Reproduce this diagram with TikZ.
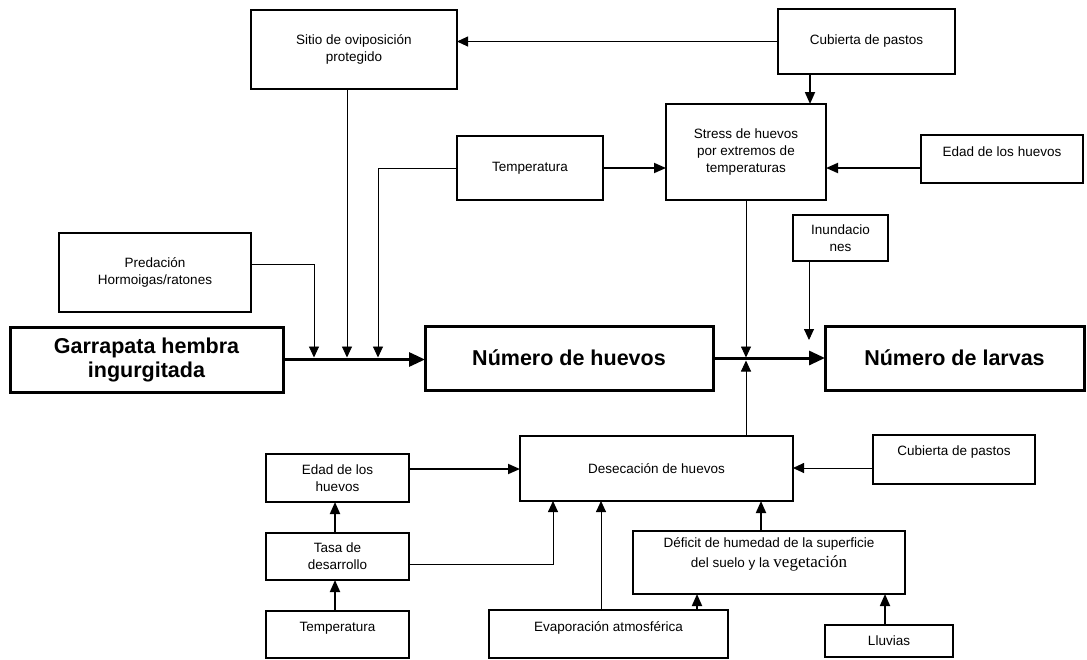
\documentclass[tikz,border=0pt]{standalone}
\usepackage{fontspec}
\setmainfont{Liberation Sans}
\newfontfamily\serifvg{Liberation Serif}
\usetikzlibrary{arrows.meta,calc}

\begin{document}
\begin{tikzpicture}[x=1pt,y=-1pt,
  box/.style={draw, line width=1.2pt, inner sep=0pt, outer sep=0pt, align=center,
    font=\fontsize{13.5}{17}\selectfont},
  bigbox/.style={draw, line width=3pt, inner sep=0pt, outer sep=0pt, align=center,
    font=\fontsize{21.5}{24}\selectfont\bfseries},
  inner/.style={inner sep=0pt, align=center, font=\fontsize{13.5}{17}\selectfont},
  conn/.style={line width=0.9pt, -{Triangle[length=11pt,width=10pt]}},
  connb/.style={line width=1.8pt, -{Triangle[length=12pt,width=10pt]}},
  mainarrow/.style={line width=3pt, -{Triangle[length=16pt,width=14pt]}}
]
\useasboundingbox (0,0) rectangle (1087,659);

% upper factors
\node[box, minimum width=206pt, minimum height=79pt] (sitio) at (354,49.5) {Sitio de oviposición\\protegido};
\node[box, minimum width=177pt, minimum height=65pt] (cubT) at (866.5,41.5) {Cubierta de pastos};
\node[box, minimum width=160pt, minimum height=96pt] (stress) at (746,152) {Stress de huevos\\por extremos de\\temperaturas};
\node[box, minimum width=146pt, minimum height=64pt] (tempT) at (530,168) {Temperatura};
\node[box, minimum width=162pt, minimum height=48pt,
  label={[inner, anchor=north, yshift=-12pt]north:Edad de los huevos}] (edadT) at (1002,159) {};
\node[box, minimum width=192pt, minimum height=79pt] (pred) at (155,272.5) {Predación\\Hormoigas/ratones};
\node[box, minimum width=95pt, minimum height=46pt] (inund) at (840.5,238) {Inundacio\\nes};

% main chain
\node[bigbox, minimum width=273pt, minimum height=65pt] (garr) at (146.5,359.5) {Garrapata hembra\\ingurgitada};
\node[bigbox, minimum width=288pt, minimum height=64pt] (huevos) at (569,358) {Número de huevos};
\node[bigbox, minimum width=259pt, minimum height=64pt] (larvas) at (954.5,358) {Número de larvas};

% lower factors
\node[box, minimum width=143pt, minimum height=48pt] (edadB) at (337.5,478) {Edad de los\\huevos};
\node[box, minimum width=143pt, minimum height=47pt] (tasa) at (337.5,556.5) {Tasa de\\desarrollo};
\node[box, minimum width=143pt, minimum height=47pt,
  label={[inner, anchor=north, yshift=-11pt]north:Temperatura}] (tempB) at (337.5,634.5) {};
\node[box, minimum width=273pt, minimum height=65pt] (des) at (656.5,468.5) {Desecación de huevos};
\node[box, minimum width=162pt, minimum height=49pt,
  label={[inner, anchor=north, yshift=-11pt]north:Cubierta de pastos}] (cubB) at (954,459.5) {};
\node[box, minimum width=272pt, minimum height=63pt,
  label={[inner, anchor=north, yshift=-6pt, font=\fontsize{13.5}{20}\selectfont]north:{Déficit de humedad de la superficie\\del suelo y la {\serifvg\fontsize{17}{20}\selectfont vegetación}}}] (def) at (769,562.5) {};
\node[box, minimum width=239pt, minimum height=48pt,
  label={[inner, anchor=north, yshift=-11pt]north:Evaporación atmosférica}] (evap) at (608.5,634) {};
\node[box, minimum width=128pt, minimum height=32pt] (lluv) at (889,641) {Lluvias};

% points where influences meet the main chain
\coordinate (mp) at (314,357.5);
\coordinate (ms) at (347,357.5);
\coordinate (mt) at (378,357.5);
\coordinate (mstress) at (746,357.5);
\coordinate (mdes) at (746,360.5);
\coordinate (iend) at (809,340);

% main chain arrows
\draw[mainarrow] (garr.east) -- (garr.east -| huevos.west);
\draw[mainarrow] (huevos.east) -- (huevos.east -| larvas.west);

% upper connectors
\draw[conn] ([yshift=8.5pt]pred.east) -| (mp);
\draw[conn] ([xshift=-7pt]sitio.south) -- (ms);
\draw[conn] (tempT.west) -| (mt);
\draw[conn] (cubT.west) -- (cubT.west -| sitio.east);
\draw[connb] ([xshift=-56.5pt]cubT.south) -- ([xshift=-56.5pt]cubT.south |- stress.north);
\draw[connb] (tempT.east) -- (tempT.east -| stress.west);
\draw[connb] ([yshift=-9pt]edadT.west) -- ([yshift=-9pt]edadT.west -| stress.east);
\draw[conn] (stress.south) -- (mstress);
\draw[conn] ([xshift=89.5pt]des.north) -- (mdes);
\draw[conn] ([xshift=-31.5pt]inund.south) -- (iend);

% lower connectors
\draw[connb] ([yshift=9pt]edadB.east) -- ([yshift=9pt]edadB.east -| des.west);
\draw[conn] ([yshift=-7.5pt]tasa.east) -| ([xshift=-103.5pt]des.south);
\draw[connb] ([xshift=-2.5pt]tempB.north) -- ([xshift=-2.5pt]tempB.north |- tasa.south);
\draw[connb] ([xshift=-2.5pt]tasa.north) -- ([xshift=-2.5pt]tasa.north |- edadB.south);
\draw[conn] ([xshift=-7.5pt]evap.north) -- ([xshift=-7.5pt]evap.north |- des.south);
\draw[connb] ([xshift=88.5pt]evap.north) -- ([xshift=88.5pt]evap.north |- def.south);
\draw[connb] ([xshift=-8pt]def.north) -- ([xshift=-8pt]def.north |- des.south);
\draw[connb] ([xshift=-4pt]lluv.north) -- ([xshift=-4pt]lluv.north |- def.south);
\draw[conn] ([yshift=-8.5pt]cubB.west) -- ([yshift=-8.5pt]cubB.west -| des.east);
\end{tikzpicture}
\end{document}
